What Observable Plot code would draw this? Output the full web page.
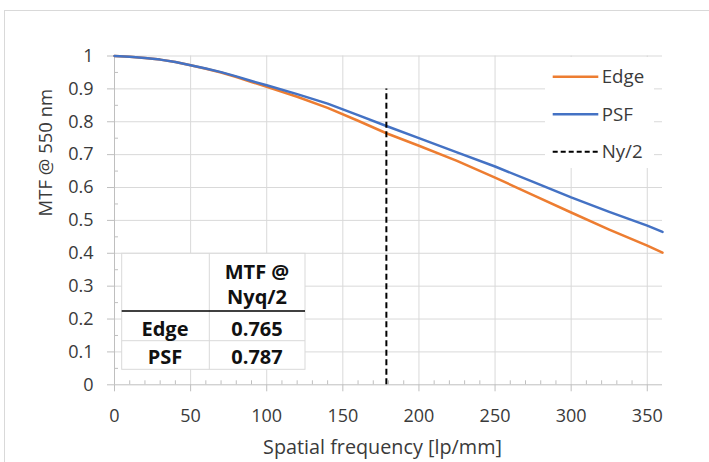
<!DOCTYPE html>
<html>
<head>
<meta charset="utf-8">
<script src="https://cdn.jsdelivr.net/npm/d3@7"></script>
<script src="https://cdn.jsdelivr.net/npm/@observablehq/plot@0.6"></script>
<style>
  html, body { margin: 0; padding: 0; background: #fff; }
  #wrap { position: relative; width: 709px; height: 462px; overflow: hidden; font-family: "Open Sans", sans-serif; }
  #border { position: absolute; left: 4px; top: 10px; width: 720px; height: 470px; border: 1px solid #d9d9d9; box-sizing: border-box; }
  #wrap > svg { position: absolute; left: 0; top: 0; }
</style>
</head>
<body>
<div id="wrap"><div id="border"></div></div>
<script>
// ---- data ----
const freq    = [0, 10, 20, 30, 40, 50, 60, 70, 80, 90, 100, 120, 140, 160, 178.6, 200, 225, 250, 275, 300, 325, 350, 360];
const edgeMTF = [1.0, 0.998, 0.994, 0.989, 0.982, 0.972, 0.961, 0.950, 0.936, 0.921, 0.906, 0.876, 0.842, 0.803, 0.765, 0.727, 0.681, 0.630, 0.577, 0.524, 0.472, 0.423, 0.402];
const psfMTF  = [1.0, 0.998, 0.994, 0.989, 0.982, 0.972, 0.962, 0.951, 0.938, 0.924, 0.911, 0.884, 0.855, 0.820, 0.787, 0.750, 0.707, 0.664, 0.617, 0.570, 0.526, 0.484, 0.465];
const nyqHalf = 178.6;
const nyqLineTop = 0.9;
const xTicks = [0, 50, 100, 150, 200, 250, 300, 350];
const yTicks = [0, 0.1, 0.2, 0.3, 0.4, 0.5, 0.6, 0.7, 0.8, 0.9, 1];
const xMinor = [10, 20, 30, 40, 60, 70, 80, 90, 110, 120, 130, 140, 160, 170, 180, 190, 210, 220, 230, 240, 260, 270, 280, 290, 310, 320, 330, 340];
const yMinor = [0.05, 0.15, 0.25, 0.35, 0.45, 0.55, 0.65, 0.75, 0.85, 0.95];
const seriesNames = ["Edge", "PSF", "Ny/2"];
const seriesColors = ["#ED7D31", "#4472C4", "#000000"];
const tableHeader = ["MTF @", "Nyq/2"];
const tableRows = [["Edge", "0.765"], ["PSF", "0.787"]];
const xTitle = "Spatial frequency [lp/mm]";
const yTitle = "MTF @ 550 nm";

const edgeData = freq.map((f, i) => ({f, v: edgeMTF[i]}));
const psfData = freq.map((f, i) => ({f, v: psfMTF[i]}));

const W = 709, H = 462;
const mL = 114, mR = 47, mT = 55.5, mB = 77.7;
const minorLenX = 4 / (H - mT - mB);          // 4px in y units
const minorLenY = 4 / (W - mL - mR) * 360;    // 4px in x units
const textColor = "#3a3a3a";

const chart = Plot.plot({
  width: W, height: H,
  marginLeft: mL, marginRight: mR, marginTop: mT, marginBottom: mB,
  x: {domain: [0, 360]},
  y: {domain: [0, 1]},
  style: {fontFamily: "'Open Sans', sans-serif", fontSize: "18px", color: textColor, background: "transparent", overflow: "visible"},
  marks: [
    Plot.gridY(yTicks.filter(d => d > 0), {stroke: "#d9d9d9", strokeOpacity: 1}),
    Plot.gridX(xTicks.filter(d => d > 0), {stroke: "#d9d9d9", strokeOpacity: 1}),
    Plot.ruleX(xMinor, {x: d => d, y1: 0, y2: minorLenX, stroke: "#bfbfbf"}),
    Plot.ruleY(yMinor, {y: d => d, x1: 0, x2: minorLenY, stroke: "#bfbfbf"}),
    Plot.ruleX([0], {stroke: "#bfbfbf"}),
    Plot.ruleY([0], {stroke: "#bfbfbf"}),
    Plot.axisX({ticks: xTicks, tickSize: 7, tickPadding: 17, stroke: "#bfbfbf", color: textColor, label: null}),
    Plot.axisY({ticks: yTicks, tickSize: 7, tickPadding: 14, stroke: "#bfbfbf", color: textColor, label: null, tickFormat: d => String(d)}),
    Plot.line(edgeData, {x: "f", y: "v", stroke: seriesColors[0], strokeWidth: 2.5}),
    Plot.line(psfData, {x: "f", y: "v", stroke: seriesColors[1], strokeWidth: 2.5}),
    Plot.ruleX([nyqHalf], {y1: 0, y2: nyqLineTop, stroke: seriesColors[2], strokeWidth: 2, strokeDasharray: "6,3.5"}),
    Plot.text([xTitle], {frameAnchor: "bottom", lineAnchor: "top", dx: -6, dy: 55.5, fontSize: 19.8, fill: textColor}),
    Plot.text([yTitle], {frameAnchor: "left", rotate: -90, dx: -68, dy: -4, fontSize: 18.5, fill: textColor})
  ]
});
document.getElementById("wrap").appendChild(chart);

// ---- overlay: legend and table ----
const ov = d3.select("#wrap").append("svg")
  .attr("width", W).attr("height", H)
  .style("position", "absolute").style("left", 0).style("top", 0)
  .style("font-family", "'Open Sans', sans-serif");

// legend
const lg = ov.append("g");
lg.append("rect").attr("x", 545).attr("y", 57).attr("width", 109).attr("height", 111).attr("fill", "#fff");
seriesNames.forEach((name, i) => {
  const y = 76.7 + i * 37.5;
  lg.append("line").attr("x1", 552.7).attr("x2", 598.3).attr("y1", y).attr("y2", y)
    .attr("stroke", seriesColors[i]).attr("stroke-width", i === 2 ? 2 : 2.5)
    .attr("stroke-dasharray", i === 2 ? "5,3" : null);
  lg.append("text").attr("x", 601.7).attr("y", y + 6.6).attr("fill", textColor)
    .attr("font-size", 18.7).text(name);
});

// table
const tx = 121.7, ty = 253.3, tw = 183.3, th = 116, colX = 209.3;
const tb = ov.append("g");
tb.append("rect").attr("x", tx).attr("y", ty).attr("width", tw).attr("height", th)
  .attr("fill", "#fff").attr("stroke", "#d9d9d9");
tb.append("line").attr("x1", colX).attr("x2", colX).attr("y1", ty).attr("y2", ty + th).attr("stroke", "#d9d9d9");
tb.append("line").attr("x1", tx).attr("x2", tx + tw).attr("y1", 340.7).attr("y2", 340.7).attr("stroke", "#d9d9d9");
tb.append("line").attr("x1", tx).attr("x2", tx + tw).attr("y1", 311).attr("y2", 311).attr("stroke", "#000").attr("stroke-width", 1.5);
const c1 = 165, c2 = 257, fsT = 20;
tableHeader.forEach((t, i) => {
  tb.append("text").attr("x", c2).attr("y", 271.7 + i * 25 + 7).attr("text-anchor", "middle")
    .attr("font-weight", "bold").attr("font-size", fsT).attr("fill", "#111").text(t);
});
tableRows.forEach((r, i) => {
  const y = 329.3 + i * 27.4 + 7;
  tb.append("text").attr("x", c1).attr("y", y).attr("text-anchor", "middle")
    .attr("font-weight", "bold").attr("font-size", fsT).attr("fill", "#111").text(r[0]);
  tb.append("text").attr("x", c2).attr("y", y).attr("text-anchor", "middle")
    .attr("font-weight", "bold").attr("font-size", fsT).attr("fill", "#111").text(r[1]);
});
</script>
</body>
</html>
